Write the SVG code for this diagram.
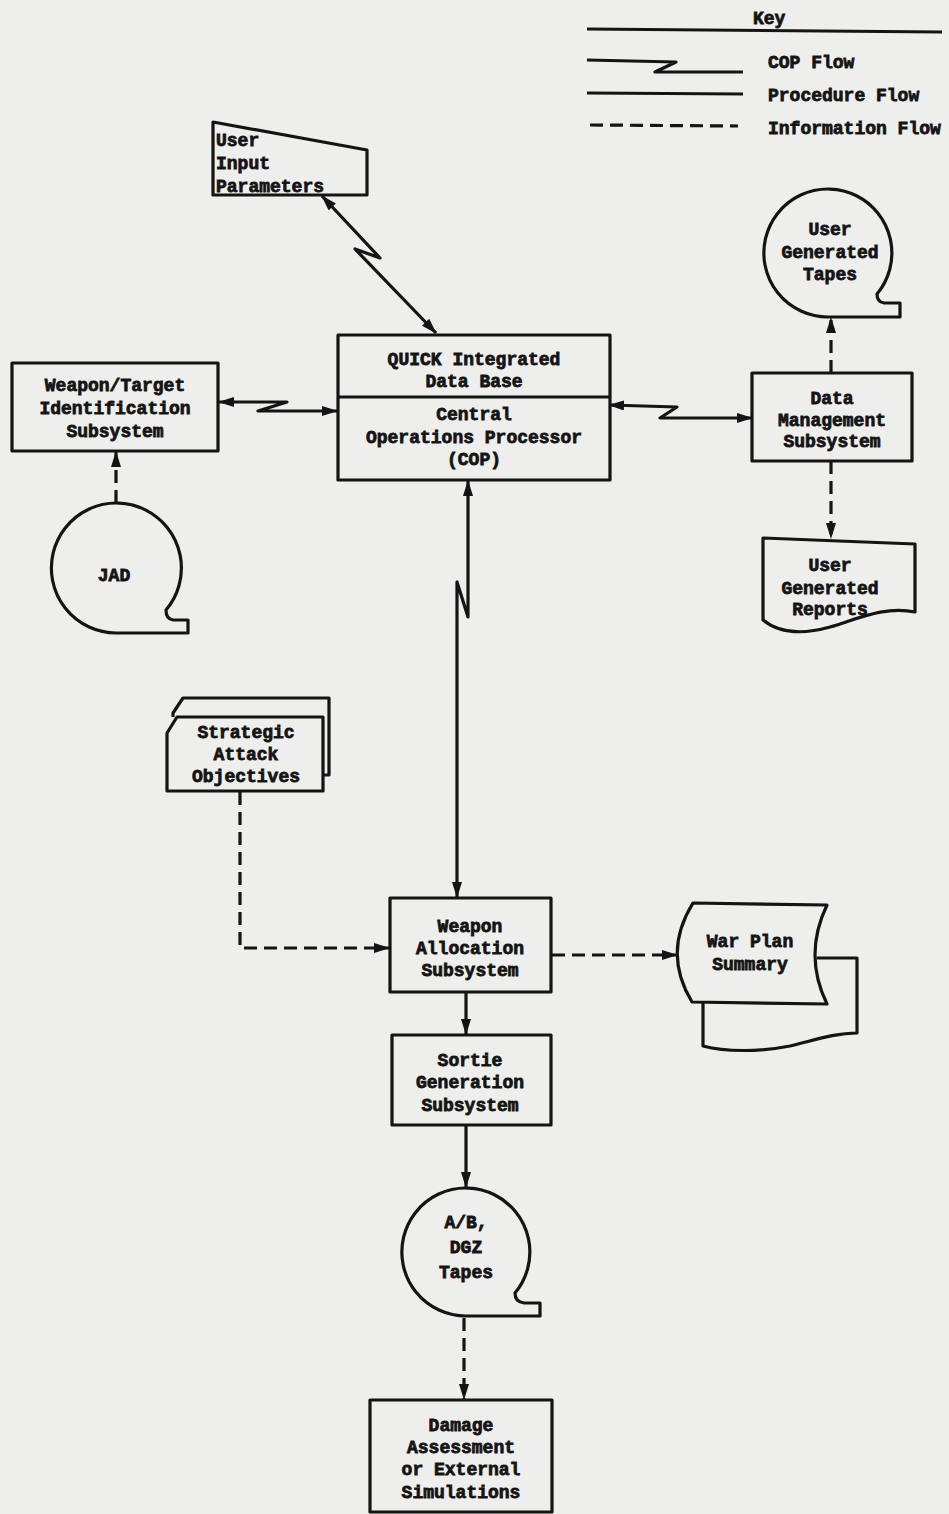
<svg xmlns="http://www.w3.org/2000/svg" width="949" height="1514" viewBox="0 0 949 1514">
<style>
.bg{fill:#eeeeec}
.sh{fill:#eeeeec;stroke:#141414;stroke-width:3.2;stroke-linejoin:round}
.ln{fill:none;stroke:#141414;stroke-width:3.2;stroke-linejoin:round}
.ds{fill:none;stroke:#141414;stroke-width:3.2;stroke-dasharray:13 7}
.t{font-family:"Liberation Mono","DejaVu Sans Mono",monospace;font-weight:bold;font-size:18px;fill:#141414;stroke:#141414;stroke-width:0.8;text-anchor:middle}
.l{text-anchor:start}
</style>
<defs>
<marker id="a" viewBox="0 0 16 10" refX="15" refY="5" markerWidth="16" markerHeight="10" markerUnits="userSpaceOnUse" orient="auto-start-reverse">
<path d="M0,0 L16,5 L0,10 Z" fill="#141414"/>
</marker>
</defs>
<rect class="bg" x="0" y="0" width="949" height="1514"/>

<g id="key">
<text class="t l" x="753" y="24">Key</text>
<path class="ln" d="M587,29 L942,32"/>
<path class="ln" d="M587,60 L676,62 L655,72 L743,72"/>
<text class="t l" x="768" y="68">COP Flow</text>
<path class="ln" d="M587,93 L743,94"/>
<text class="t l" x="768" y="101">Procedure Flow</text>
<path class="ds" d="M590,125 L738,126"/>
<text class="t l" x="768" y="134">Information Flow</text>
</g>

<g id="connectors">
<path class="ln" d="M322,196 L380,258 L355,249 L436,333" marker-start="url(#a)" marker-end="url(#a)"/>
<path class="ln" d="M219,402 L287,402 L258,411 L337,411" marker-start="url(#a)" marker-end="url(#a)"/>
<path class="ln" d="M609,405 L677,407 L660,418 L752,418" marker-start="url(#a)" marker-end="url(#a)"/>
<path class="ln" d="M468,481 L468,617 L457,582 L457,897" marker-start="url(#a)" marker-end="url(#a)"/>
<path class="ds" d="M831,373 L831,318" marker-end="url(#a)"/>
<path class="ds" d="M831,461 L831,538" marker-end="url(#a)"/>
<path class="ds" d="M116,503 L116,452" marker-end="url(#a)"/>
<path class="ds" d="M240,792 L240,948 L389,948" marker-end="url(#a)"/>
<path class="ds" d="M552,955 L677,955" marker-end="url(#a)"/>
<path class="ln" d="M466,993 L466,1034" marker-end="url(#a)"/>
<path class="ln" d="M466,1126 L466,1187" marker-end="url(#a)"/>
<path class="ds" d="M464,1318 L464,1399" marker-end="url(#a)"/>
</g>

<g id="user-input-parameters">
<polygon class="sh" points="213,122 367,150 367,195 213,195"/>
<text class="t l" x="216" y="146">User</text>
<text class="t l" x="216" y="169">Input</text>
<text class="t l" x="216" y="192">Parameters</text>
</g>

<g id="weapon-target-identification">
<rect class="sh" x="12" y="363" width="206" height="88"/>
<text class="t" x="115" y="391">Weapon/Target</text>
<text class="t" x="115" y="414">Identification</text>
<text class="t" x="115" y="437">Subsystem</text>
</g>

<g id="cop">
<rect class="sh" x="338" y="335" width="272" height="145"/>
<path class="ln" d="M338,397 L610,397"/>
<text class="t" x="474" y="365">QUICK Integrated</text>
<text class="t" x="474" y="387">Data Base</text>
<text class="t" x="474" y="420">Central</text>
<text class="t" x="474" y="443">Operations Processor</text>
<text class="t" x="474" y="465">(COP)</text>
</g>

<g id="data-management">
<rect class="sh" x="752" y="373" width="160" height="88"/>
<text class="t" x="832" y="404">Data</text>
<text class="t" x="832" y="426">Management</text>
<text class="t" x="832" y="447">Subsystem</text>
</g>

<g id="user-generated-tapes">
<path class="sh" d="M828,317 L900,317 L900,303 L884,303 Q877,302 877,294 A64,64 0 1 0 828,317 Z"/>
<text class="t" x="830" y="235">User</text>
<text class="t" x="830" y="258">Generated</text>
<text class="t" x="830" y="280">Tapes</text>
</g>

<g id="user-generated-reports">
<path class="sh" d="M763,538 L915,544 L915,612 C885,606 860,618 830,627 C805,634 780,634 763,620 Z"/>
<text class="t" x="830" y="571">User</text>
<text class="t" x="830" y="594">Generated</text>
<text class="t" x="830" y="615">Reports</text>
</g>

<g id="jad">
<path class="sh" d="M116,633 L188,633 L188,620 L173,620 Q166,619 166,610 A65,65 0 1 0 116,633 Z"/>
<text class="t" x="114" y="581">JAD</text>
</g>

<g id="strategic-attack-objectives">
<path class="sh" d="M173,717 L173,713 L183,698 L329,698 L329,775 L323,775"/>
<polygon class="sh" points="177,717 323,717 323,791 167,791 167,733"/>
<text class="t" x="246" y="738">Strategic</text>
<text class="t" x="246" y="760">Attack</text>
<text class="t" x="246" y="782">Objectives</text>
</g>

<g id="weapon-allocation">
<rect class="sh" x="390" y="898" width="161" height="94"/>
<text class="t" x="470" y="932">Weapon</text>
<text class="t" x="470" y="954">Allocation</text>
<text class="t" x="470" y="976">Subsystem</text>
</g>

<g id="war-plan-summary">
<path class="sh" d="M817,958 L857,958 L857,1033 C835,1033 815,1040 790,1046 C760,1052 725,1052 703,1046 L703,1003"/>
<path class="sh" d="M693,903 L827,905 Q803,955 827,1004 L692,1002 Q662,953 693,903 Z"/>
<text class="t" x="750" y="947">War Plan</text>
<text class="t" x="750" y="970">Summary</text>
</g>

<g id="sortie-generation">
<rect class="sh" x="392" y="1035" width="159" height="90"/>
<text class="t" x="470" y="1066">Sortie</text>
<text class="t" x="470" y="1088">Generation</text>
<text class="t" x="470" y="1111">Subsystem</text>
</g>

<g id="ab-dgz-tapes">
<path class="sh" d="M466,1316 L540,1316 L540,1303 L524,1303 Q515,1302 515,1293 A64,64 0 1 0 466,1316 Z"/>
<text class="t" x="466" y="1228">A/B,</text>
<text class="t" x="466" y="1253">DGZ</text>
<text class="t" x="466" y="1278">Tapes</text>
</g>

<g id="damage-assessment">
<rect class="sh" x="370" y="1400" width="182" height="112"/>
<text class="t" x="461" y="1431">Damage</text>
<text class="t" x="461" y="1453">Assessment</text>
<text class="t" x="461" y="1475">or External</text>
<text class="t" x="461" y="1498">Simulations</text>
</g>
</svg>
